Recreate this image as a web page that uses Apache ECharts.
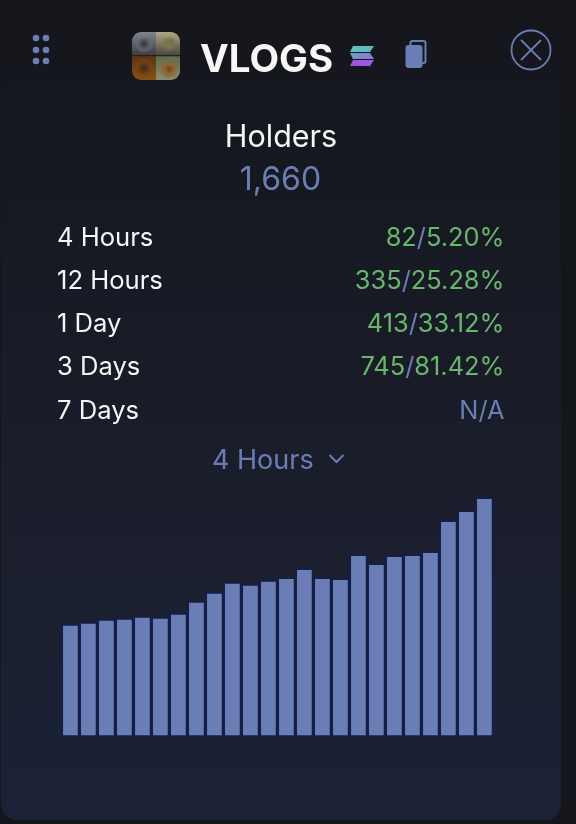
<!DOCTYPE html>
<html><head><meta charset="utf-8">
<style>html,body{margin:0;padding:0;background:#15161b}#c{width:576px;height:824px}</style>
<script src="https://cdn.jsdelivr.net/npm/echarts@6/dist/echarts.min.js"></script></head>
<body><div id="c"></div>
<script>
const categories = ['1','2','3','4','5','6','7','8','9','10','11','12','13','14','15','16','17','18','19','20','21','22','23','24'];
const holderValues = [782,796,817,824,838,831,858,942,1004,1073,1059,1087,1106,1168,1106,1099,1265,1203,1258,1265,1286,1501,1570,1660];
const periodLabels = ['4 Hours','12 Hours','1 Day','3 Days','7 Days'];
const periodCounts = ['82','335','413','745',null];
const periodPercents = ['5.20%','25.28%','33.12%','81.42%',null];
const tokenName = 'VLOGS';
const headline = 'Holders';
const totalHolders = '1,660';
const selectedPeriod = '4 Hours';

const BLUE='#6b7db5', GREEN='#68b56d', WHITE='#f6f6f6', FONT='Inter, sans-serif';
const rowY=[238,281,324,367.5,411];
const g=[];
const RG=(stops)=>new echarts.graphic.RadialGradient(0.5,0.5,0.5,stops.map((c,i)=>({offset:i/(stops.length-1),color:c})));
// card
g.push({type:'rect',shape:{x:1,y:-30,width:560,height:850,r:16},style:{fill:new echarts.graphic.LinearGradient(0,0,0,1,[{offset:0,color:'#15161b'},{offset:0.15,color:'#15171e'},{offset:0.4,color:'#181b25'},{offset:0.65,color:'#1b1f2d'},{offset:1,color:'#1b2237'}])},z:-10});
// drag dots
[36,46].forEach(x=>[38,50,61].forEach(y=>g.push({type:'circle',shape:{cx:x,cy:y,r:3.3},style:{fill:BLUE}})));
// token tile
const tile=[[132,32,24,24,[9,0,0,0],'#80848c','#3a3b3f'],[156,32,24,24,[0,9,0,0],'#b0a685','#46443a'],[132,56,24,24,[0,0,0,9],'#5a3512','#8a5014'],[156,56,24,24,[0,0,9,0],'#5e6a4e','#8b8d6a']];
tile.forEach(t=>g.push({type:'rect',shape:{x:t[0],y:t[1],width:t[2],height:t[3],r:t[4]},style:{fill:new echarts.graphic.LinearGradient(0,0,0,1,[{offset:0,color:t[5]},{offset:1,color:t[6]}])}}));
g.push({type:'circle',shape:{cx:144,cy:44,r:9},style:{fill:RG(['#33353a','#55585e','rgba(120,124,132,0)'])}});
g.push({type:'circle',shape:{cx:169,cy:44,r:8},style:{fill:RG(['#7c7a42','#76744a','rgba(120,116,80,0)'])}});
g.push({type:'circle',shape:{cx:144,cy:68,r:11},style:{fill:RG(['#3c2a20','#6e3e16','rgba(130,76,20,0)'])}});
g.push({type:'circle',shape:{cx:169,cy:69,r:10},style:{fill:RG(['#6b4520','#94652f','rgba(120,100,50,0)'])}});
g.push({type:'rect',shape:{x:132,y:55,width:48,height:1.2},style:{fill:'#222226'}});
// title
g.push({type:'text',x:200,y:60,style:{text:tokenName,fill:WHITE,font:'700 38.5px '+FONT,align:'left',verticalAlign:'middle'}});
// solana mark
const sol=[[[353,46],[374,46],[370,52],[350,52],'#5cc8b4','#62b0c8'],[[350,53],[370,53],[374,59],[353,59],'#6a9ec8','#8a7ad0'],[[353,60],[374,60],[370,66],[350,66],'#a04fe0','#9a60dc']];
sol.forEach(s=>g.push({type:'polygon',shape:{points:s.slice(0,4)},style:{fill:new echarts.graphic.LinearGradient(0,0,1,0,[{offset:0,color:s[4]},{offset:1,color:s[5]}])}}));
// copy icon
g.push({type:'rect',shape:{x:410.5,y:41,width:15,height:22,r:2},style:{fill:'none',stroke:BLUE,lineWidth:2}});
g.push({type:'rect',shape:{x:405.5,y:45,width:17,height:23,r:3},style:{fill:BLUE}});
// close icon
g.push({type:'circle',shape:{cx:531,cy:50,r:19.5},style:{fill:'none',stroke:BLUE,lineWidth:1.8}});
g.push({type:'line',shape:{x1:521,y1:40,x2:541,y2:60},style:{stroke:BLUE,lineWidth:1.8}});
g.push({type:'line',shape:{x1:541,y1:40,x2:521,y2:60},style:{stroke:BLUE,lineWidth:1.8}});
// headings
g.push({type:'text',x:281,y:138,style:{text:headline,fill:WHITE,font:'400 30.5px '+FONT,align:'center',verticalAlign:'middle'}});
g.push({type:'text',x:280.5,y:180,style:{text:totalHolders,fill:BLUE,font:'400 32px '+FONT,align:'center',verticalAlign:'middle'}});
// rows
periodLabels.forEach((l,i)=>{
  g.push({type:'text',x:57,y:rowY[i],style:{text:l,fill:WHITE,font:'400 25.6px '+FONT,align:'left',verticalAlign:'middle'}});
  const has=periodCounts[i]!==null;
  g.push({type:'text',x:504.5,y:rowY[i],style:{
    text:has?'{g|'+periodCounts[i]+'}{b|/}{g|'+periodPercents[i]+'}':'{b|N/A}',
    align:'right',verticalAlign:'middle',
    rich:{g:{fill:GREEN,font:'400 25.4px '+FONT},b:{fill:BLUE,font:'400 25.4px '+FONT}}}});
});
// dropdown
g.push({type:'text',x:212,y:461,style:{text:selectedPeriod,fill:BLUE,font:'400 27px '+FONT,align:'left',verticalAlign:'middle'}});
g.push({type:'polyline',shape:{points:[[329.5,455],[336.5,462],[343.5,455]]},style:{fill:'none',stroke:BLUE,lineWidth:2}});

const chart=echarts.init(document.getElementById('c'),null,{renderer:'canvas',width:576,height:824});
chart.setOption({
  animation:false,
  backgroundColor:'#15161b',
  graphic:{elements:g},
  grid:{left:61.4,top:497.35,width:432,height:239.6},
  xAxis:{type:'category',data:categories,show:false,boundaryGap:true},
  yAxis:{type:'value',min:0,max:1660,show:false},
  series:[{type:'bar',data:holderValues,barWidth:18,itemStyle:{color:'#6b7db5',borderColor:'#151e48',borderWidth:1.65},silent:true}]
});
</script></body></html>
